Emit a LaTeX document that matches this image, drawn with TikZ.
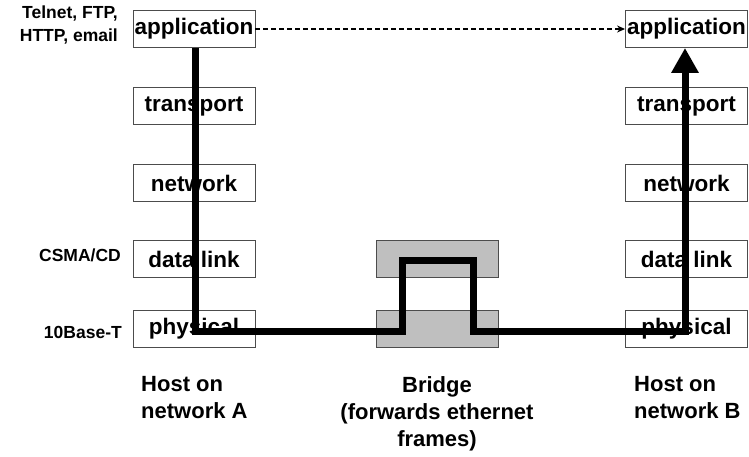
\documentclass[tikz,border=0pt]{standalone}
\usepackage{fontspec}
\setmainfont{Liberation Sans}
\usetikzlibrary{arrows.meta}
\begin{document}
\begin{tikzpicture}[x=1pt,y=-1pt,
  layer/.style={draw=black!70, line width=0.9pt, fill=white, minimum width=122pt, minimum height=37pt, inner sep=0pt, font=\fontsize{22.5}{24}\selectfont\bfseries},
  bridgebox/.style={draw=black!70, line width=0.9pt, fill=black!25, minimum width=122pt, minimum height=37pt, inner sep=0pt},
  side/.style={font=\fontsize{17.5}{23}\selectfont\bfseries, align=right, anchor=east, inner sep=0pt},
  caption/.style={font=\fontsize{22}{27}\selectfont\bfseries, inner sep=0pt},
  flow/.style={line width=7pt, line join=miter},
  peer/.style={line width=1.3pt, dash pattern=on 5pt off 3pt, -{Stealth[length=8pt,width=7pt]}}
]
\useasboundingbox (0,0) rectangle (749,456);

% Host A
\node[layer] (appA) at (194,29) {application};
\node[layer] (trA) at (194,106) {transport};
\node[layer] (netA) at (194,183) {network};
\node[layer] (dlA) at (194,259) {data link};
\node[layer] (phA) at (194,328.5) {physical};

% Host B
\node[layer] (appB) at (686.5,29) {application};
\node[layer] (trB) at (686.5,106) {transport};
\node[layer] (netB) at (686.5,183) {network};
\node[layer] (dlB) at (686.5,259) {data link};
\node[layer] (phB) at (686.5,328.5) {physical};

% Bridge
\node[bridgebox] (brU) at (437,258.5) {};
\node[bridgebox] (brL) at (437,328.5) {};

% side labels
\node[side] (proto) at (118,25.5) {Telnet, FTP,\\HTTP, email};
\node[side] (mac) at (121,255) {CSMA/CD};
\node[side] (phy) at (122,332) {10Base-T};

% captions
\node[caption, align=left, anchor=north west] (capA) at (141,376) {Host on\\network A};
\node[caption, align=center, anchor=north] (capBr) at (437,376) {Bridge\\(forwards ethernet\\frames)};
\node[caption, align=left, anchor=north west] (capB) at (634,376) {Host on\\network B};

% path of the frame
\coordinate (k1) at (195,331);
\coordinate (k2) at (402,331);
\coordinate (k3) at (402,260);
\coordinate (k4) at (473,260);
\coordinate (k5) at (473,331);
\coordinate (k6) at (685,331);
\draw[flow, -{Triangle[width=26pt,length=25pt]}] (appA.south -| k1) -- (k1) -- (k2) -- (k3) -- (k4) -- (k5) -- (k6) -- (appB.south -| k6);

% logical peer communication
\draw[peer] (appA.east) -- (appB.west);
\end{tikzpicture}
\end{document}
